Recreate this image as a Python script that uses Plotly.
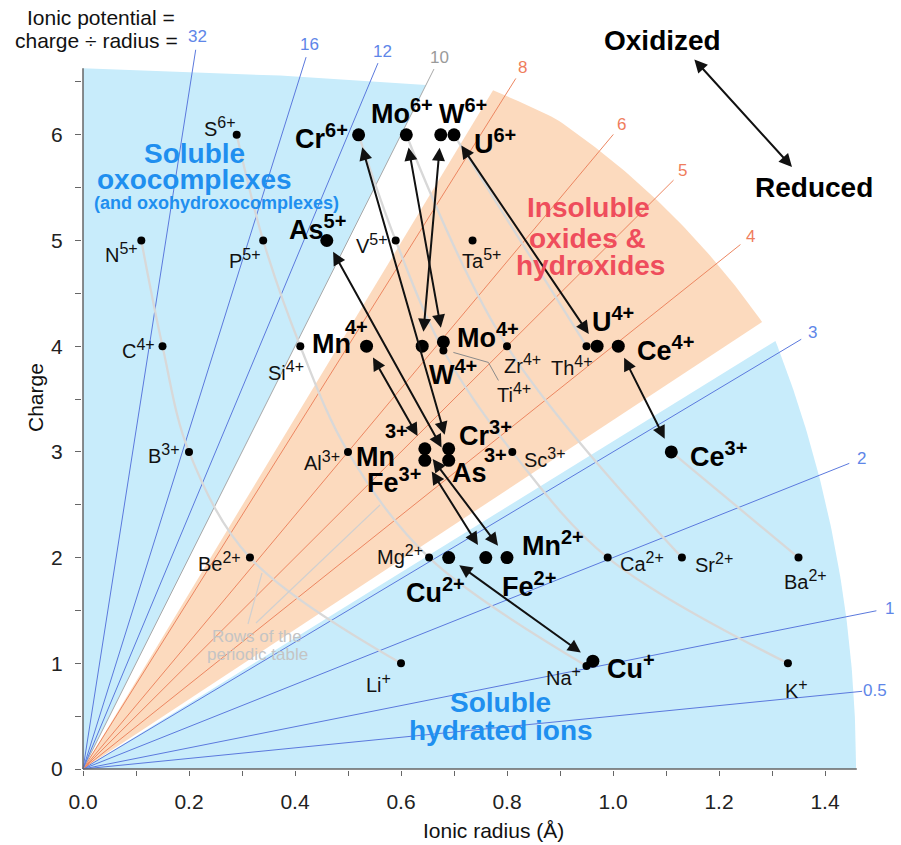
import math
import numpy as np
import plotly.graph_objects as go

# ---------------- data: ionic radius (Å) and charge ----------------
ion_names = ["S6+", "N5+", "P5+", "V5+", "Ta5+", "C4+", "Si4+", "Zr4+", "Ti4+", "Th4+",
             "B3+", "Al3+", "Sc3+", "Be2+", "Mg2+", "Ca2+", "Sr2+", "Ba2+", "Li+", "Na+", "K+"]
ion_radius = [0.29, 0.11, 0.34, 0.59, 0.735, 0.15, 0.41, 0.80, 0.68, 0.95,
              0.20, 0.50, 0.81, 0.315, 0.653, 0.99, 1.13, 1.35, 0.60, 0.95, 1.33]
ion_charge = [6, 5, 5, 5, 5, 4, 4, 4, 3.96, 4,
              3, 3, 3, 2, 2, 2, 2, 2, 1, 0.975, 1]

redox_names = ["Cr6+", "Mo6+", "W6+", "U6+", "As5+", "Mn4+", "W4+", "Mo4+", "U4+", "Ce4+",
               "Mn3+", "Fe3+", "Cr3+", "As3+", "Ce3+", "Cu2+", "Fe2+", "Mn2+", "Cu+"]
redox_radius = [0.52, 0.61, 0.675, 0.70, 0.46, 0.535, 0.64, 0.68, 0.97, 1.01,
                0.645, 0.645, 0.69, 0.69, 1.11, 0.69, 0.76, 0.80, 0.962]
redox_charge = [6, 6, 6, 6, 5, 4, 4, 4.04, 4, 4,
                3.03, 2.92, 3.03, 2.92, 3, 2, 2, 2, 1.02]

redox_pairs = [("Cr6+", "Cr3+"), ("Mo6+", "Mo4+"), ("W6+", "W4+"), ("U6+", "U4+"),
               ("As5+", "As3+"), ("Mn4+", "Mn3+"), ("Mn3+", "Mn2+"), ("Fe3+", "Fe2+"),
               ("Cu2+", "Cu+"), ("Ce4+", "Ce3+")]

potential_values = [0.5, 1, 2, 3, 4, 5, 6, 8, 10, 12, 16, 32]

periodic_rows = [
    ["N5+", "C4+", "B3+", "Be2+", "Li+"],
    ["S6+", "P5+", "Si4+", "Al3+", "Mg2+", "Na+"],
    ["Cr6+", "V5+", "Ti4+", "Sc3+", "Ca2+", "K+"],
    ["Mo6+", "Zr4+", "Sr2+"],
    ["U6+", "Th4+"],
    ["Ce3+", "Ba2+"],
]

# ---------------- geometry of the canvas ----------------
W_FIG, H_FIG = 901, 845
M_L, M_R, M_T, M_B = 82, 12, 48, 75
PXX, PXY = 530.0, 105.7      # pixels per unit (x, y)
OX, OY = 83.0, 769.0         # pixel position of the origin
plot_w = W_FIG - M_L - M_R
plot_h = H_FIG - M_T - M_B
x_range = [(M_L - OX) / PXX, (M_L + plot_w - OX) / PXX]
y_range = [(OY - (M_T + plot_h)) / PXY, (OY - M_T) / PXY]

FONT = "Liberation Sans, Arial, Helvetica, sans-serif"


def px_data(px, py):
    return (px - OX) / PXX, (OY - py) / PXY


def px_paper(px, py):
    return (px - M_L) / plot_w, (M_T + plot_h - py) / plot_h


def slope_angle(k):
    return math.atan(k * PXY / PXX)


def polar(theta, r):
    return r * math.cos(theta) / PXX, r * math.sin(theta) / PXY


def sup(name, size):
    i = next(k for k, ch in enumerate(name) if ch.isdigit() or ch == "+")
    return f"{name[:i]}<sup><span style='font-size:{size}px'>{name[i:]}</span></sup>"


pos = {n: (r, c) for n, r, c in zip(ion_names, ion_radius, ion_charge)}
pos.update({n: (r, c) for n, r, c in zip(redox_names, redox_radius, redox_charge)})

fig = go.Figure()

# ---------------- shaded stability fields ----------------
BLUE_FILL = "#c8ecfb"
ORANGE_FILL = "#fcdabe"

# soluble oxocomplexes (high ionic potential)
oxo_x = [0, 0, 0.372, 0.647, 0]
oxo_y = [0, 6.63, 6.56, 6.47, 0]
fig.add_trace(go.Scatter(x=oxo_x, y=oxo_y, fill="toself", fillcolor=BLUE_FILL,
                         line=dict(width=0), mode="lines", hoverinfo="skip"))

# insoluble oxides & hydroxides
ths = np.linspace(slope_angle(3.3), slope_angle(8.3), 80)
r_or = np.interp(np.degrees(ths), [33.3, 45, 54, 58.7], [813, 808, 804, 793])
ins_x = [0] + [polar(t, r)[0] for t, r in zip(ths, r_or)] + [0]
ins_y = [0] + [polar(t, r)[1] for t, r in zip(ths, r_or)] + [0]
fig.add_trace(go.Scatter(x=ins_x, y=ins_y, fill="toself", fillcolor=ORANGE_FILL,
                         line=dict(width=0), mode="lines", hoverinfo="skip"))

# soluble hydrated ions (low ionic potential)
ths = np.linspace(0, slope_angle(3.1), 80)
r_bl = 773 + 0.0408 * np.degrees(ths) ** 2
hyd_x = [0] + [polar(t, r)[0] for t, r in zip(ths, r_bl)] + [0]
hyd_y = [0] + [polar(t, r)[1] for t, r in zip(ths, r_bl)] + [0]
fig.add_trace(go.Scatter(x=hyd_x, y=hyd_y, fill="toself", fillcolor=BLUE_FILL,
                         line=dict(width=0), mode="lines", hoverinfo="skip"))

# ---------------- lines of constant ionic potential ----------------
line_end_r = [783, 809, 825, 837, 841, 834, 827, 815, 783, 765, 746, 728]
LINE_COL = {"blue": "#5b79dd", "orange": "#ec8661", "gray": "#a8a8a8"}
LABEL_COL = {"blue": "#5e86e8", "orange": "#ef7d5c", "gray": "#9a9a9a"}
annotations = []
for k, r_end in zip(potential_values, line_end_r):
    grp = "gray" if k == 10 else ("orange" if k in (4, 5, 6, 8) else "blue")
    th = slope_angle(k)
    ex, ey = polar(th, r_end)
    fig.add_trace(go.Scatter(x=[0, ex], y=[0, ey], mode="lines",
                             line=dict(color=LINE_COL[grp], width=1), hoverinfo="skip"))
    lx, ly = polar(th, r_end + 13)
    px_, py_ = OX + lx * PXX, OY - ly * PXY
    qx, qy = px_paper(px_, py_)
    annotations.append(dict(x=qx, y=qy, xref="paper", yref="paper", text=f"{k:g}",
                            showarrow=False, xanchor="center", yanchor="middle",
                            font=dict(family=FONT, size=17, color=LABEL_COL[grp])))

# ---------------- rows of the periodic table ----------------
for row in periodic_rows:
    fig.add_trace(go.Scatter(x=[pos[n][0] for n in row], y=[pos[n][1] for n in row],
                             mode="lines", line=dict(color="#d8d8d8", width=2.3,
                                                     shape="spline", smoothing=1.0),
                             hoverinfo="skip"))
for seg in [[(248, 624), (262, 573)], [(256, 623), (380, 505)]]:
    pts = [px_data(*p) for p in seg]
    fig.add_trace(go.Scatter(x=[p[0] for p in pts], y=[p[1] for p in pts], mode="lines",
                             line=dict(color="#d0d0d0", width=1.2), hoverinfo="skip"))

# leader to the Ti4+ label
tx, ty = pos["Ti4+"]
tpx, tpy = OX + tx * PXX, OY - ty * PXY
lead = [px_data(tpx + dx, tpy + dy) for dx, dy in [(10, 2), (45, 12), (55, 30)]]
fig.add_trace(go.Scatter(x=[p[0] for p in lead], y=[p[1] for p in lead], mode="lines",
                         line=dict(color="#8a8a8a", width=1), hoverinfo="skip"))

# ---------------- axis lines ----------------
AX_COL = "#666666"
fig.add_trace(go.Scatter(x=[0, 1.46], y=[0, 0], mode="lines",
                         line=dict(color=AX_COL, width=1.5), hoverinfo="skip"))
fig.add_trace(go.Scatter(x=[0, 0], y=[0, 6.63], mode="lines",
                         line=dict(color=AX_COL, width=1.5), hoverinfo="skip"))

# ---------------- ions ----------------
fig.add_trace(go.Scatter(x=ion_radius, y=ion_charge, mode="markers",
                         marker=dict(color="black", size=8), hoverinfo="skip"))
fig.add_trace(go.Scatter(x=redox_radius, y=redox_charge, mode="markers",
                         marker=dict(color="black", size=13), hoverinfo="skip"))

# ---------------- redox arrows ----------------
for a, b in redox_pairs:
    annotations.append(dict(x=pos[a][0], y=pos[a][1], ax=pos[b][0], ay=pos[b][1],
                            xref="x", yref="y", axref="x", ayref="y", text="",
                            showarrow=True, arrowside="end+start",
                            arrowhead=2, startarrowhead=2, arrowsize=1.3, startarrowsize=1.3,
                            arrowwidth=2, arrowcolor="#111111",
                            standoff=13, startstandoff=13))

# ---------------- ion labels ----------------
small_label_pos = {
    "S6+": ("right", 1, 8), "N5+": ("right", -1, -12), "P5+": ("right", 0, -18),
    "V5+": ("right", -6, -3), "Ta5+": ("left", -13, -18), "C4+": ("right", -6, -3),
    "Si4+": ("right", 6, -25), "Zr4+": ("left", -5, -18), "Ti4+": ("left", 52, -43),
    "Th4+": ("right", 8, -20), "B3+": ("right", -7, -2), "Al3+": ("right", -6, -9),
    "Sc3+": ("left", 10, -6), "Be2+": ("right", -7, -4), "Mg2+": ("right", -4, 3),
    "Ca2+": ("left", 10, -4), "Sr2+": ("left", 11, -5), "Ba2+": ("center", 7, -22),
    "Li+": ("right", -8, -20), "Na+": ("right", -4, -10), "K+": ("center", 9, -26),
}
for n in ion_names:
    xa, xs, ys = small_label_pos[n]
    annotations.append(dict(x=pos[n][0], y=pos[n][1], xref="x", yref="y", text=sup(n, 16),
                            showarrow=False, xanchor=xa, yanchor="middle",
                            xshift=xs, yshift=ys,
                            font=dict(family=FONT, size=20, color="#111111")))

bold_label_pos = {
    "Cr6+": ("right", -9, -2), "Mo6+": ("center", -4, 23), "W6+": ("left", -4, 23),
    "U6+": ("left", 18, -7), "As5+": ("right", 21, 13), "W4+": ("left", 5, -26),
    "Mo4+": ("left", 12, 6), "U4+": ("left", -7, 27), "Ce4+": ("left", 17, -2),
    "Ce3+": ("left", 17, -3), "Fe3+": ("right", -2, -20), "Cr3+": ("left", 8, 15),
    "Cu2+": ("center", -13, -33), "Fe2+": ("left", 14, -27), "Mn2+": ("left", 13, 14),
    "Cu+": ("left", 12, -5),
}
split_label_pos = {
    "Mn4+": [("Mn", -35, 2, 27), ("4+", -10, 19, 20)],
    "Mn3+": [("Mn", -49, -8, 27), ("3+", -28, 18, 20)],
    "As3+": [("As", 21, -13, 27), ("3+", 47, 5, 20)],
}
for n in redox_names:
    if n in split_label_pos:
        for txt, xs, ys, fs in split_label_pos[n]:
            annotations.append(dict(x=pos[n][0], y=pos[n][1], xref="x", yref="y",
                                    text=f"<b>{txt}</b>", showarrow=False,
                                    xanchor="center", yanchor="middle", xshift=xs, yshift=ys,
                                    font=dict(family=FONT, size=fs, color="#000000")))
        continue
    xa, xs, ys = bold_label_pos[n]
    annotations.append(dict(x=pos[n][0], y=pos[n][1], xref="x", yref="y",
                            text=f"<b>{sup(n, 20)}</b>", showarrow=False,
                            xanchor=xa, yanchor="middle", xshift=xs, yshift=ys,
                            font=dict(family=FONT, size=27, color="#000000")))

# ---------------- text blocks ----------------
def text_px(px, py, text, size, color, bold=False, xanchor="center", angle=0):
    qx, qy = px_paper(px, py)
    annotations.append(dict(x=qx, y=qy, xref="paper", yref="paper",
                            text=f"<b>{text}</b>" if bold else text, showarrow=False,
                            xanchor=xanchor, yanchor="middle", textangle=angle,
                            font=dict(family=FONT, size=size, color=color)))


SOL_BLUE = "#1f8fef"
INS_RED = "#ef4d5c"
text_px(194, 153, "Soluble", 28, SOL_BLUE, True)
text_px(194, 179, "oxocomplexes", 28, SOL_BLUE, True)
text_px(216, 203, "(and oxohydroxocomplexes)", 18, SOL_BLUE, True)
text_px(588, 207, "Insoluble", 28, INS_RED, True)
text_px(587, 238, "oxides &amp;", 28, INS_RED, True)
text_px(590, 265, "hydroxides", 28, INS_RED, True)
text_px(500, 702, "Soluble", 28, SOL_BLUE, True)
text_px(501, 730, "hydrated ions", 28, SOL_BLUE, True)
text_px(662, 40, "Oxidized", 28, "#000000", True)
text_px(814, 187, "Reduced", 28, "#000000", True)
text_px(177, 18, "Ionic potential =", 21, "#111111", xanchor="right")
text_px(180, 40, "charge ÷ radius =", 21, "#111111", xanchor="right")
text_px(257, 636, "Rows of the", 17, "#c4c4c4")
text_px(257, 654, "periodic table", 17, "#c4c4c4")
text_px(493, 830, "Ionic radius (Å)", 21, "#111111")
text_px(35, 398, "Charge", 21, "#111111", angle=-90)

# oxidized <-> reduced arrow
hx, hy = px_paper(792, 167)
annotations.append(dict(x=hx, y=hy, xref="paper", yref="paper", ax=693 - 792, ay=58 - 167,
                        axref="pixel", ayref="pixel", text="", showarrow=True,
                        arrowside="end+start", arrowhead=2, startarrowhead=2,
                        arrowsize=1.3, startarrowsize=1.3, arrowwidth=2,
                        arrowcolor="#111111", standoff=0, startstandoff=0))

# ---------------- layout ----------------
xt = [0, 0.2, 0.4, 0.6, 0.8, 1.0, 1.2, 1.4]
fig.update_layout(
    width=W_FIG, height=H_FIG, autosize=False,
    margin=dict(l=M_L, r=M_R, t=M_T, b=M_B, pad=0),
    paper_bgcolor="white", plot_bgcolor="white",
    showlegend=False, hovermode=False,
    annotations=annotations,
    xaxis=dict(range=x_range, showgrid=False, zeroline=False, showline=False,
               ticks="outside", ticklen=5, tickwidth=1, tickcolor=AX_COL,
               tickvals=xt, ticktext=[f"{v:.1f}" for v in xt], ticklabelstandoff=8,
               tickfont=dict(family=FONT, size=21, color="#222222"),
               minor=dict(tickvals=[0.1, 0.3, 0.5, 0.7, 0.9, 1.1, 1.3], ticks="outside",
                          ticklen=5, tickwidth=1, tickcolor=AX_COL, showgrid=False)),
    yaxis=dict(range=y_range, showgrid=False, zeroline=False, showline=False,
               ticks="outside", ticklen=6, tickwidth=1, tickcolor=AX_COL,
               tickvals=[0, 1, 2, 3, 4, 5, 6], ticklabelstandoff=8,
               tickfont=dict(family=FONT, size=21, color="#222222"),
               minor=dict(tickvals=[0.5, 1.5, 2.5, 3.5, 4.5, 5.5, 6.5], ticks="outside",
                          ticklen=6, tickwidth=1, tickcolor=AX_COL, showgrid=False)),
)

fig.write_html("out.html")
